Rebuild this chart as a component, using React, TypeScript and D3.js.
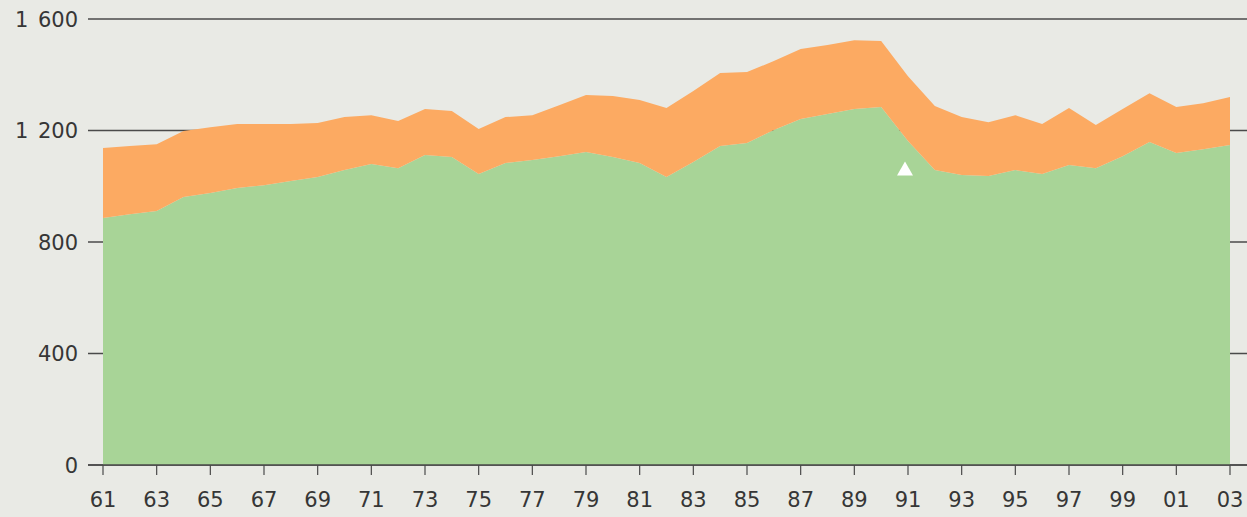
import { useEffect, useRef } from 'react';
import * as d3 from 'd3';

const years = d3.range(1961, 2004);

// lower (green) series
const greenValues = [
  886, 900, 911, 961, 976, 994, 1004, 1019, 1033, 1058,
  1080, 1065, 1112, 1105, 1044, 1083, 1094, 1108, 1123, 1105,
  1083, 1033, 1087, 1144, 1155, 1202, 1241, 1259, 1277, 1284,
  1162, 1058, 1040, 1037, 1058, 1044, 1076, 1065, 1108, 1159,
  1119, 1133, 1148
];

// upper (orange) series, stacked on green
const orangeValues = [
  251, 244, 240, 237, 236, 229, 219, 204, 194, 190,
  175, 169, 165, 165, 161, 165, 161, 183, 204, 219,
  226, 248, 255, 262, 255, 247, 251, 248, 247, 237,
  233, 230, 208, 193, 197, 179, 205, 155, 169, 175,
  165, 165, 172
];

const yTicks = [0, 400, 800, 1200, 1600];
const xTicks = d3.range(1961, 2004, 2);

const seriesKeys = ['green', 'orange'];
const seriesColors: Record<string, string> = { green: '#a8d497', orange: '#fcaa62' };

const W = 1247;
const H = 517;

export default function App() {
  const ref = useRef<SVGSVGElement | null>(null);

  useEffect(() => {
    if (!ref.current) return;
    const svg = d3.select(ref.current);
    svg.selectAll('*').remove();

    const left = 103;
    const right = 1230;
    const top = 19;
    const bottom = 465;
    const lineStart = 88;

    const x = d3.scaleLinear().domain([1961, 2003]).range([left, right]);
    const y = d3.scaleLinear().domain([0, 1600]).range([bottom, top]);

    svg.append('rect').attr('width', W).attr('height', H).attr('fill', '#e9eae5');

    // gridlines behind the areas
    svg.append('g')
      .selectAll('line')
      .data(yTicks)
      .join('line')
      .attr('x1', lineStart)
      .attr('x2', W)
      .attr('y1', (d) => y(d))
      .attr('y2', (d) => y(d))
      .attr('stroke', '#4a4a4a')
      .attr('stroke-width', 1.3);

    const table = years.map((yr, i) => ({ year: yr, green: greenValues[i], orange: orangeValues[i] }));
    const stacked = d3.stack<any>().keys(seriesKeys)(table);

    const area = d3
      .area<any>()
      .x((d) => x(d.data.year))
      .y0((d) => y(d[0]))
      .y1((d) => y(d[1]));

    svg.append('g')
      .selectAll('path')
      .data(stacked)
      .join('path')
      .attr('d', area)
      .attr('fill', (d) => seriesColors[d.key]);

    // baseline
    svg.append('line')
      .attr('x1', lineStart)
      .attr('x2', W)
      .attr('y1', y(0))
      .attr('y2', y(0))
      .attr('stroke', '#4a4a4a')
      .attr('stroke-width', 1.3);

    // x ticks and labels
    const xg = svg.append('g');
    xg.selectAll('line')
      .data(xTicks)
      .join('line')
      .attr('x1', (d) => x(d))
      .attr('x2', (d) => x(d))
      .attr('y1', y(0))
      .attr('y2', y(0) + 10)
      .attr('stroke', '#4a4a4a')
      .attr('stroke-width', 1.2);
    xg.selectAll('text')
      .data(xTicks)
      .join('text')
      .attr('x', (d) => x(d))
      .attr('y', 507)
      .attr('text-anchor', 'middle')
      .style('font-family', 'DejaVu Sans, sans-serif')
      .style('font-size', '21px')
      .attr('fill', '#363636')
      .text((d) => d3.format('02d')(d % 100));

    // y labels
    svg.append('g')
      .selectAll('text')
      .data(yTicks)
      .join('text')
      .attr('x', 78)
      .attr('y', (d) => y(d))
      .attr('dy', '0.36em')
      .attr('text-anchor', 'end')
      .style('font-family', 'DejaVu Sans, sans-serif')
      .style('font-size', '21px')
      .style('word-spacing', '3px')
      .attr('fill', '#363636')
      .text((d) => (d >= 1000 ? `${Math.floor(d / 1000)} ${String(d % 1000).padStart(3, '0')}` : String(d)));

    // white triangle marker near 1991
    const tx = x(1991) - 3;
    const ty = y(1060);
    svg.append('path')
      .attr('d', `M${tx},${ty - 8} L${tx + 8},${ty + 6} L${tx - 8},${ty + 6} Z`)
      .attr('fill', '#ffffff');
  }, []);

  return (
    <div style={{ position: 'fixed', left: 0, top: 0 }}>
      <svg ref={ref} width={W} height={H} style={{ display: 'block' }} />
    </div>
  );
}
